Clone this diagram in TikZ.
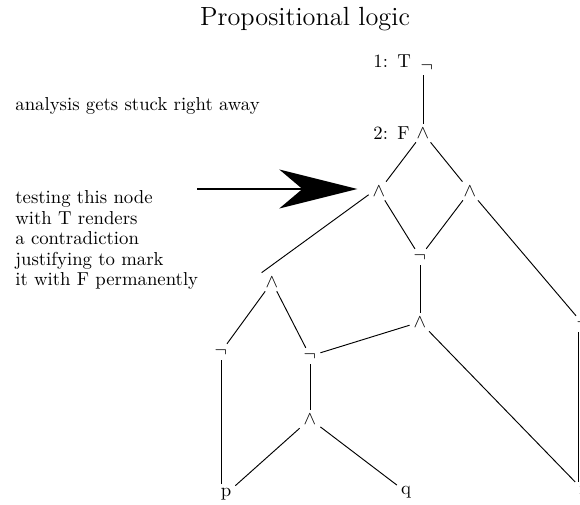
\documentclass[tikz,border=0pt]{standalone}
\usetikzlibrary{arrows.meta}

\begin{document}
\begin{tikzpicture}[x=0.533pt,y=-0.533pt,
  sym/.style={inner sep=2pt,font=\fontsize{10}{11}\selectfont},
  note/.style={inner sep=0pt,align=left,font=\fontsize{10}{11}\selectfont},
  edge/.style={line width=0.5pt},
  hint/.style={line width=1pt,-{Stealth[length=41.6pt,width=20.8pt,inset=12.3pt]},shorten >=6pt}]
\useasboundingbox (0,0) rectangle (580,505);
\node[note,anchor=base,font=\fontsize{14}{16}\selectfont] (title) at (305,26) {Propositional logic};
% the formula
\node[sym] (neg1) at (427,67) {$\neg$};
\node[sym] (and2) at (423,133) {$\wedge$};
\node[note,anchor=base west] (mark1) at (373,68) {1:\enspace T};
\node[note,anchor=base west] (mark2) at (373,140) {2:\enspace F};
\node[sym] (andL) at (379,191) {$\wedge$};
\node[sym] (andR) at (470,191) {$\wedge$};
\node[sym] (negM) at (420,257) {$\neg$};
\node[sym] (andA) at (272,282) {$\wedge$};
\node[sym] (andM) at (420,322) {$\wedge$};
\node[sym] (negA) at (221,352) {$\neg$};
\node[sym] (negB) at (310,356) {$\neg$};
\node[sym] (andB) at (310,419) {$\wedge$};
\node[sym] (negR) at (583,324) {$\neg$};
\node[sym] (p) at (226,494) {p};
\node[sym] (q) at (406,492) {q};
\node[sym] (r) at (583,490) {r};
\foreach \a/\b in {and2/andL,and2/andR,andL/negM,andR/negM,andR/negR,negM/andM,
  andA/negA,andA/negB,andM/negB,andM/r,negB/andB,andB/p,andB/q}
  \draw[edge] (\a) -- (\b);
\draw[edge] (and2.north |- neg1.south) -- (and2.north);
\draw[edge] (andL.200) -- (andA.north west);
\draw[edge] (negA) -- (negA |- p.north);
\draw[edge] ([xshift=3pt]negR.south west) -- ([xshift=3pt]negR.south west |- r.north);
% comments
\node[note,anchor=base west] (stuck) at (15,111) {analysis gets stuck right away};
\node[note,anchor=north west] (test) at (15,190) {testing this node\\with T renders\\a contradiction\\justifying to mark\\it with F permanently};
\coordinate (tail) at (197,189);
\draw[hint] (tail) -- (tail -| andL.west);
\end{tikzpicture}
\end{document}
